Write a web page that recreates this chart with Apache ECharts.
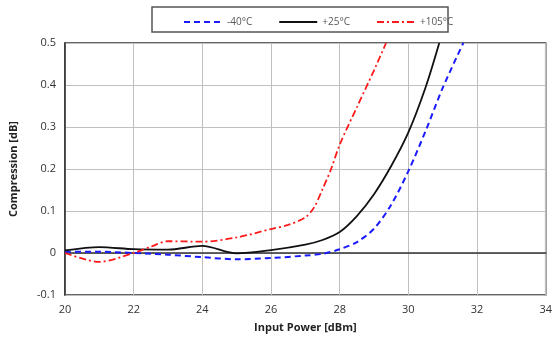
<!DOCTYPE html>
<html>
<head>
<meta charset="utf-8">
<script src="https://cdn.jsdelivr.net/npm/echarts@6/dist/echarts.min.js"></script>
<style>
  html, body { margin: 0; padding: 0; background: #fff; }
  #chart { width: 555px; height: 343px; }
</style>
</head>
<body>
<div id="chart"></div>
<script>
// Input power (dBm) and compression (dB) for each temperature
const seriesNames = ['-40\u00B0C', '+25\u00B0C', '+105\u00B0C'];

const coldX = [20, 21, 22, 23, 24, 25, 26, 27, 27.5, 28, 28.5, 29, 29.5, 30, 30.5, 31, 31.6];
const coldY = [0.003, 0.003, 0.0, -0.004, -0.01, -0.015, -0.012, -0.006, -0.002, 0.009, 0.026, 0.058, 0.115, 0.195, 0.29, 0.393, 0.5];

const roomX = [20, 21, 22, 23, 24, 25, 26, 27, 27.5, 28, 28.5, 29, 29.5, 30, 30.5, 30.9];
const roomY = [0.006, 0.014, 0.009, 0.008, 0.017, -0.001, 0.007, 0.02, 0.031, 0.05, 0.088, 0.14, 0.207, 0.287, 0.394, 0.5];

const hotX = [20, 21, 22, 22.5, 23, 24, 25, 26, 26.5, 27, 27.25, 27.5, 27.75, 28, 28.5, 29, 29.35];
const hotY = [0.0, -0.021, 0.0, 0.015, 0.028, 0.027, 0.037, 0.057, 0.067, 0.085, 0.108, 0.152, 0.2, 0.258, 0.347, 0.435, 0.5];

const xTicks = { min: 20, max: 34, step: 2 };
const yTicks = { min: -0.1, max: 0.5, step: 0.1 };

const pairs = (xs, ys) => xs.map((x, i) => [x, ys[i]]);

const chart = echarts.init(document.getElementById('chart'), null, { renderer: 'canvas' });
const font = '"Open Sans", "Liberation Sans", sans-serif';

chart.setOption({
  animation: false,
  backgroundColor: '#ffffff',
  textStyle: { fontFamily: font },
  grid: {
    left: 65, right: 3, top: 43, bottom: 48,
    show: true, borderColor: '#333', borderWidth: 1.5
  },
  graphic: [{
    type: 'rect',
    shape: { x: 152, y: 7, width: 296, height: 25 },
    style: { fill: '#fff', stroke: '#555', lineWidth: 1.5 },
    z: 0
  }],
  legend: {
    left: 178, top: 12,
    itemWidth: 38, itemHeight: 10, itemGap: 26,
    itemStyle: { opacity: 0 },
    textStyle: { fontSize: 10, color: '#595959', fontFamily: font },
    data: seriesNames
  },
  xAxis: {
    type: 'value', min: xTicks.min, max: xTicks.max, interval: xTicks.step,
    name: 'Input Power [dBm]', nameLocation: 'middle', nameGap: 27,
    nameTextStyle: { fontWeight: 'bold', fontSize: 11, color: '#222' },
    axisLine: { show: true, lineStyle: { color: '#333', width: 1.5 } },
    axisTick: { show: false },
    axisLabel: { fontSize: 11, color: '#333', margin: 9 },
    splitLine: { show: true, lineStyle: { color: '#bfbfbf', width: 1 } }
  },
  yAxis: {
    type: 'value', min: yTicks.min, max: yTicks.max, interval: yTicks.step,
    name: 'Compression [dB]', nameLocation: 'middle', nameGap: 46,
    nameTextStyle: { fontWeight: 'bold', fontSize: 11, color: '#222' },
    axisLine: { show: true, lineStyle: { color: '#333', width: 1.5 } },
    axisTick: { show: false },
    axisLabel: {
      fontSize: 11, color: '#333', margin: 9,
      formatter: v => String(Math.round(v * 10) / 10)
    },
    splitLine: { show: true, lineStyle: { color: '#bfbfbf', width: 1 } }
  },
  series: [
    {
      name: seriesNames[0], type: 'line', data: pairs(coldX, coldY),
      smooth: 0.3, showSymbol: false, symbol: 'none',
      lineStyle: { color: '#1a1aff', width: 2, type: [6, 4] },
      itemStyle: { color: '#1a1aff' }
    },
    {
      name: seriesNames[1], type: 'line', data: pairs(roomX, roomY),
      smooth: 0.3, showSymbol: false, symbol: 'none',
      lineStyle: { color: '#111', width: 1.8 },
      itemStyle: { color: '#111' }
    },
    {
      name: seriesNames[2], type: 'line', data: pairs(hotX, hotY),
      smooth: 0.3, showSymbol: false, symbol: 'none',
      lineStyle: { color: '#ff1a1a', width: 1.8, type: [7, 3, 2, 3] },
      itemStyle: { color: '#ff1a1a' }
    }
  ]
});
</script>
</body>
</html>
